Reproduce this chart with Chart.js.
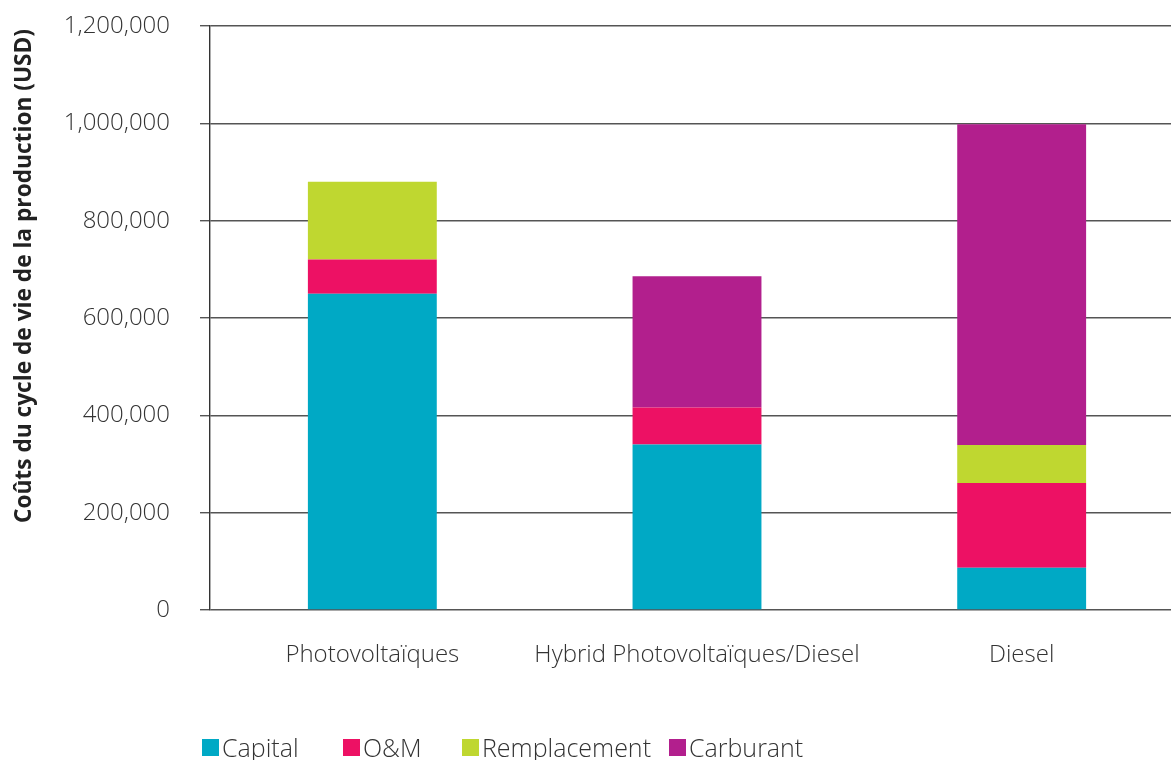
<!DOCTYPE html>
<html lang="fr">
<head>
<meta charset="utf-8">
<title>Coûts du cycle de vie de la production</title>
<script src="https://cdn.jsdelivr.net/npm/chart.js@4/dist/chart.umd.min.js"></script>
<style>
  html, body { margin: 0; padding: 0; background: #fff; overflow: hidden; width: 1171px; height: 760px; }
  #wrap { position: absolute; left: 0; top: 0; width: 1200px; height: 760px; }
  #legend { position: absolute; left: 0; top: 0; width: 1171px; height: 760px; pointer-events: none;
            font-family: "Open Sans", sans-serif; font-size: 25px; font-weight: 300; color: #333; }
  .item { position: absolute; top: 730px; display: flex; align-items: center; white-space: nowrap; }
  .box { width: 17px; height: 17px; margin-right: 3px; }
</style>
</head>
<body>
<div id="wrap"><canvas id="c" width="1200" height="760"></canvas></div>
<div id="legend"></div>
<script>
// Categories and cost components (USD)
const categories = ['Photovoltaïques', 'Hybrid Photovoltaïques/Diesel', 'Diesel'];
const capital      = [650000, 340000, 87000];
const om           = [70000, 76000, 174000];
const remplacement = [160000, 0, 78000];
const carburant    = [0, 270000, 659000];

const seriesNames  = ['Capital', 'O&M', 'Remplacement', 'Carburant'];
const seriesColors = ['#00a9c5', '#ed1164', '#bfd730', '#b21f8d'];
const seriesValues = [capital, om, remplacement, carburant];
const yTitle = 'Coûts du cycle de vie de la production (USD)';

const datasets = seriesNames.map((name, i) => ({
  label: name,
  data: seriesValues[i],
  backgroundColor: seriesColors[i],
  borderWidth: 0,
  barPercentage: 0.397,
  categoryPercentage: 1.0
}));

// Rotated axis title
const axisTitle = {
  id: 'axisTitle',
  afterDraw(chart) {
    const ctx = chart.ctx;
    ctx.save();
    ctx.translate(25, 276);
    ctx.rotate(-Math.PI / 2);
    ctx.font = 'bold 22.7px "Open Sans", sans-serif';
    ctx.fillStyle = '#222';
    ctx.textAlign = 'center';
    ctx.textBaseline = 'middle';
    ctx.fillText(yTitle, 0, 0);
    ctx.restore();
  }
};

new Chart(document.getElementById('c'), {
  type: 'bar',
  data: { labels: categories, datasets },
  plugins: [axisTitle],
  options: {
    responsive: false,
    animation: false,
    layout: { padding: { top: 26, right: 16, left: 0, bottom: 0 } },
    plugins: { legend: { display: false }, tooltip: { enabled: false } },
    scales: {
      x: {
        stacked: true,
        afterFit(scale) { scale.height = 150; scale.paddingLeft = 0; scale.paddingRight = 0; },
        grid: { display: false, drawTicks: false },
        border: { display: false },
        ticks: {
          color: '#333', padding: 31, maxRotation: 0, minRotation: 0, autoSkip: false,
          font: { family: '"Open Sans", sans-serif', size: 24, weight: '300' }
        }
      },
      y: {
        stacked: true,
        min: 0,
        max: 1200000,
        afterFit(scale) { scale.width = 210; scale.paddingTop = 0; scale.paddingBottom = 0; },
        grid: { color: '#555', lineWidth: 1.4, tickLength: 10 },
        border: { display: true, color: '#333', width: 1.4 },
        ticks: {
          stepSize: 200000,
          padding: 30,
          color: '#333',
          font: { family: '"Open Sans", sans-serif', size: 24, weight: '300' },
          callback: v => v.toLocaleString('en-US')
        }
      }
    }
  }
});

// Legend row
const legendLefts = [202, 343, 462, 669];
const legend = document.getElementById('legend');
seriesNames.forEach((name, i) => {
  const item = document.createElement('div');
  item.className = 'item';
  item.style.left = legendLefts[i] + 'px';
  const box = document.createElement('span');
  box.className = 'box';
  box.style.background = seriesColors[i];
  const txt = document.createElement('span');
  txt.textContent = name;
  item.appendChild(box);
  item.appendChild(txt);
  legend.appendChild(item);
});
</script>
</body>
</html>
